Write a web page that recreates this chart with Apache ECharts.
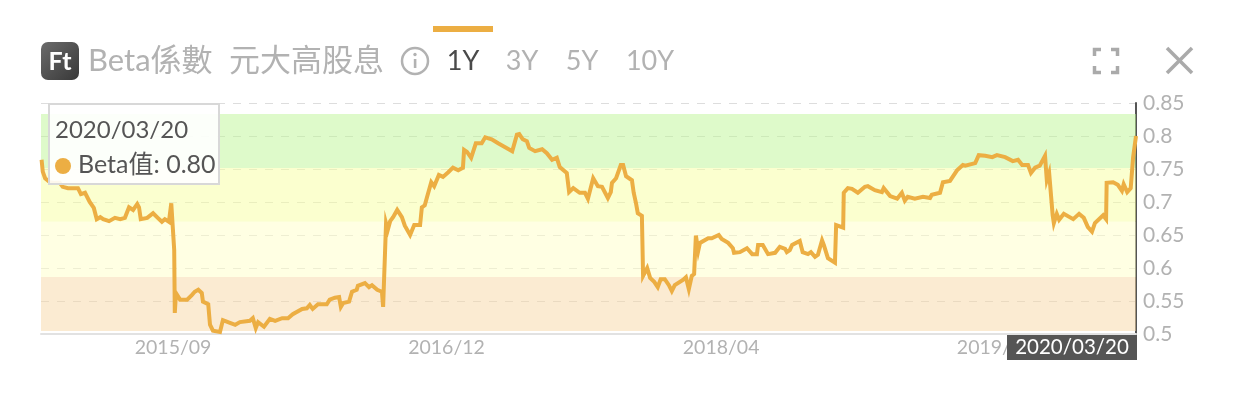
<!DOCTYPE html>
<html>
<head>
<meta charset="utf-8">
<style>
  html, body { margin: 0; padding: 0; background: #fff; }
  #chart { width: 1238px; height: 416px; }
</style>
<script src="https://cdn.jsdelivr.net/npm/echarts@6/dist/echarts.min.js"></script>
</head>
<body>
<div id="chart"></div>
<script>
var FONT = 'Lato, "Noto Sans CJK TC", sans-serif';
var GREY = '#b2b2b2';
var ORANGE = '#ecae43';

// calendar days after the first date
var startDate = [2015, 1, 9];
var dayOffsets = [1,3,7,15,24,32,37,46,55,63,68,75,83,90,95,101,106,116,126,135,143,150,157,164,167,170,181,191,199,206,211,218,222,225,227,228,230,237,249,257,262,268,274,276,285,288,293,305,310,322,325,331,339,356,361,366,370,380,390,399,411,421,429,445,453,458,463,472,487,492,501,508,511,515,525,530,538,540,552,559,564,573,581,583,586,588,591,595,600,607,615,620,629,636,646,649,654,658,665,670,678,685,694,702,711,719,721,726,733,741,751,757,768,779,791,803,811,815,821,828,832,842,854,862,871,879,884,896,900,907,918,927,932,941,949,956,966,971,973,980,983,988,992,997,1007,1010,1014,1017,1024,1026,1033,1038,1045,1051,1056,1063,1070,1075,1080,1094,1099,1104,1109,1113,1116,1120,1123,1137,1143,1155,1160,1171,1179,1181,1191,1203,1212,1220,1222,1230,1239,1251,1259,1268,1271,1276,1280,1293,1298,1307,1312,1319,1324,1331,1334,1341,1353,1355,1367,1368,1375,1382,1392,1404,1409,1421,1433,1436,1447,1459,1467,1472,1477,1489,1503,1515,1518,1532,1537,1549,1561,1571,1575,1592,1598,1609,1621,1629,1643,1656,1665,1672,1682,1687,1694,1702,1711,1714,1718,1721,1724,1726,1731,1735,1743,1759,1769,1777,1784,1791,1796,1810,1815,1816,1827,1835,1842,1845,1851,1857,1861,1866];
var betaValues = [0.764,0.746,0.736,0.730,0.729,0.729,0.723,0.721,0.721,0.721,0.712,0.714,0.700,0.691,0.674,0.677,0.674,0.671,0.676,0.674,0.676,0.692,0.688,0.697,0.692,0.674,0.676,0.683,0.676,0.670,0.674,0.670,0.698,0.695,0.627,0.532,0.562,0.552,0.552,0.559,0.564,0.567,0.562,0.549,0.545,0.514,0.505,0.503,0.521,0.517,0.517,0.514,0.518,0.520,0.524,0.509,0.518,0.511,0.523,0.520,0.524,0.524,0.530,0.538,0.539,0.544,0.538,0.545,0.545,0.552,0.555,0.556,0.541,0.547,0.549,0.564,0.567,0.573,0.577,0.571,0.574,0.567,0.564,0.541,0.541,0.668,0.658,0.671,0.677,0.688,0.677,0.664,0.650,0.665,0.665,0.692,0.695,0.708,0.730,0.724,0.741,0.738,0.745,0.752,0.748,0.752,0.779,0.776,0.767,0.789,0.789,0.798,0.795,0.789,0.783,0.777,0.802,0.803,0.795,0.792,0.782,0.777,0.780,0.774,0.764,0.767,0.753,0.744,0.715,0.721,0.714,0.714,0.705,0.736,0.724,0.723,0.706,0.715,0.729,0.736,0.738,0.756,0.756,0.739,0.733,0.714,0.698,0.683,0.679,0.588,0.600,0.585,0.579,0.571,0.583,0.583,0.574,0.565,0.574,0.582,0.586,0.568,0.588,0.591,0.649,0.626,0.638,0.645,0.645,0.650,0.644,0.638,0.630,0.623,0.624,0.630,0.621,0.621,0.635,0.635,0.621,0.623,0.632,0.629,0.624,0.627,0.635,0.641,0.624,0.621,0.624,0.617,0.620,0.642,0.635,0.615,0.608,0.665,0.661,0.714,0.721,0.720,0.714,0.723,0.724,0.718,0.715,0.721,0.709,0.705,0.714,0.702,0.708,0.705,0.708,0.706,0.711,0.714,0.730,0.732,0.748,0.756,0.755,0.759,0.771,0.770,0.768,0.771,0.768,0.762,0.764,0.756,0.756,0.744,0.752,0.755,0.770,0.733,0.744,0.744,0.680,0.668,0.682,0.673,0.682,0.674,0.682,0.676,0.662,0.655,0.668,0.680,0.674,0.729,0.730,0.726,0.717,0.727,0.715,0.721,0.767,0.800];

var xTickOffsets = [225, 691, 1159, 1626];
var yTicks = { min: 0.5, max: 0.85, interval: 0.05 };
var bandEdges = [0.8333, 0.7515, 0.67, 0.5864, 0.5045];
var bandColors = ['rgba(190,245,150,0.5)', 'rgba(248,255,160,0.5)', 'rgba(255,255,200,0.5)', 'rgba(248,215,165,0.5)'];
var titleName = 'Beta係數';
var fundName = '元大高股息';
var rangeTabs = ['1Y', '3Y', '5Y', '10Y'];
var rangeTabX = [463, 522, 582, 650];

function dayToTime(n) {
  return new Date(startDate[0], startDate[1], startDate[2] + n).getTime();
}
var lastDay = dayOffsets[dayOffsets.length - 1];
var lastLabel = echarts.time.format(dayToTime(lastDay), '{yyyy}/{MM}/{dd}');

var lineData = dayOffsets.map(function (d, i) { return [d, betaValues[i]]; });
var bandData = bandColors.map(function (c, i) {
  return [{ yAxis: bandEdges[i], itemStyle: { color: c } }, { yAxis: bandEdges[i + 1] }];
});

var tabTexts = rangeTabs.map(function (t, i) {
  return {
    type: 'text', x: rangeTabX[i], y: 61,
    style: { text: t, font: '27px ' + FONT, fill: i === 0 ? '#4a4a4a' : GREY, textAlign: 'center', textVerticalAlign: 'middle' }
  };
});

var myChart = echarts.init(document.getElementById('chart'));
var option = {
  animation: false,
  backgroundColor: '#fff',
  textStyle: { fontFamily: FONT },
  grid: { left: 41, right: 102, top: 103, height: 231 },
  tooltip: {
    trigger: 'axis',
    alwaysShowContent: true,
    transitionDuration: 0,
    axisPointer: { type: 'none' },
    position: [48, 103],
    padding: [6, 5],
    backgroundColor: 'rgba(255,255,255,0.9)',
    borderColor: '#d8d8d8',
    borderWidth: 2,
    extraCssText: 'box-shadow:none;border-radius:0;width:158px;height:66px;',
    formatter: function () {
      var v = betaValues[betaValues.length - 1].toFixed(2);
      var family = FONT.replace(/"/g, "'");
      return '<div style="font:24px/35px ' + family + ';color:#555;white-space:nowrap">' + lastLabel +
        '<br><span style="display:inline-block;width:16px;height:16px;border-radius:8px;background:' + ORANGE +
        ';margin-right:7px;vertical-align:-1px"></span><span style="font-size:25px">Beta值: ' + v + '</span></div>';
    }
  },
  xAxis: {
    type: 'value',
    min: 0,
    max: lastDay,
    axisLine: { show: true, onZero: false, lineStyle: { color: '#e2e2e2', width: 2 } },
    axisTick: { show: false },
    splitLine: { show: false },
    axisLabel: {
      customValues: xTickOffsets,
      color: GREY,
      fontSize: 19.5,
      margin: 4,
      hideOverlap: false,
      formatter: function (v) { return echarts.time.format(dayToTime(v), '{yyyy}/{MM}'); }
    }
  },
  yAxis: {
    type: 'value',
    position: 'right',
    min: yTicks.min,
    max: yTicks.max,
    interval: yTicks.interval,
    axisLine: { show: true, onZero: false, lineStyle: { color: '#555', width: 2 } },
    axisTick: { show: false },
    axisLabel: { color: GREY, fontSize: 21, margin: 7 },
    splitLine: { show: true, lineStyle: { color: '#ddd', type: [8, 8], width: 1 } }
  },
  series: [{
    name: 'Beta值',
    type: 'line',
    symbol: 'none',
    data: lineData,
    lineStyle: { color: ORANGE, width: 4, join: 'miter' },
    itemStyle: { color: ORANGE },
    emphasis: { disabled: true },
    markArea: { silent: true, data: bandData }
  }],
  graphic: [
    { type: 'rect', shape: { x: 433, y: 26, width: 60, height: 6 }, style: { fill: ORANGE } },
    {
      type: 'rect', shape: { x: 41, y: 42, width: 38, height: 38, r: 7 },
      style: { fill: { type: 'linear', x: 0, y: 0, x2: 1, y2: 1, colorStops: [{ offset: 0, color: '#6b6b6b' }, { offset: 1, color: '#383838' }] } }
    },
    { type: 'text', x: 60, y: 62, style: { text: 'Ft', font: 'bold 25px ' + FONT, fill: '#fff', textAlign: 'center', textVerticalAlign: 'middle' } },
    { type: 'text', x: 88, y: 61, style: { text: titleName, font: '31px ' + FONT, fill: GREY, textVerticalAlign: 'middle' } },
    { type: 'text', x: 229, y: 61, style: { text: fundName, font: '31px ' + FONT, fill: GREY, textVerticalAlign: 'middle' } },
    { type: 'circle', shape: { cx: 415, cy: 61, r: 13 }, style: { fill: 'none', stroke: GREY, lineWidth: 2.5 } },
    { type: 'rect', shape: { x: 413.8, y: 59, width: 2.6, height: 9 }, style: { fill: GREY } },
    { type: 'circle', shape: { cx: 415, cy: 54.5, r: 1.7 }, style: { fill: GREY } }
  ].concat(tabTexts).concat([
    { type: 'polyline', shape: { points: [[1094.5, 56], [1094.5, 49.5], [1101, 49.5]] }, style: { fill: 'none', stroke: '#aaa', lineWidth: 3.5 } },
    { type: 'polyline', shape: { points: [[1111, 49.5], [1117.5, 49.5], [1117.5, 56]] }, style: { fill: 'none', stroke: '#aaa', lineWidth: 3.5 } },
    { type: 'polyline', shape: { points: [[1094.5, 66], [1094.5, 72.5], [1101, 72.5]] }, style: { fill: 'none', stroke: '#aaa', lineWidth: 3.5 } },
    { type: 'polyline', shape: { points: [[1111, 72.5], [1117.5, 72.5], [1117.5, 66]] }, style: { fill: 'none', stroke: '#aaa', lineWidth: 3.5 } },
    { type: 'line', shape: { x1: 1167, y1: 48, x2: 1192, y2: 73 }, style: { stroke: '#aaa', lineWidth: 3.5 } },
    { type: 'line', shape: { x1: 1192, y1: 48, x2: 1167, y2: 73 }, style: { stroke: '#aaa', lineWidth: 3.5 } },
    // end date tag over the axis
    { type: 'rect', z: 50, shape: { x: 1007, y: 335, width: 130, height: 25 }, style: { fill: '#555' } },
    { type: 'text', z: 51, x: 1072, y: 347.5, style: { text: lastLabel, font: '20.5px ' + FONT, fill: '#fff', textAlign: 'center', textVerticalAlign: 'middle' } }
  ])
};
myChart.setOption(option);
myChart.dispatchAction({ type: 'showTip', seriesIndex: 0, dataIndex: lineData.length - 1 });
</script>
</body>
</html>
